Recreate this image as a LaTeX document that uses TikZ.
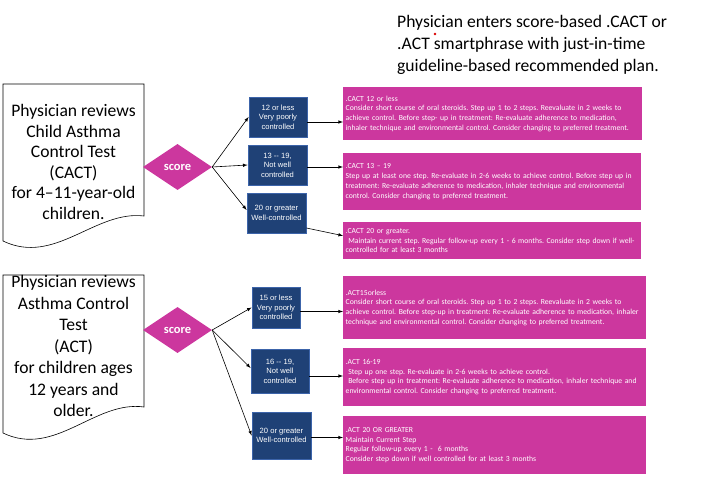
\documentclass[tikz,border=0pt]{standalone}
\usepackage{fontspec}
\setmainfont{Carlito}
\newfontfamily\arialfont{Liberation Sans}
\usetikzlibrary{shapes.geometric}

\begin{document}
\begin{tikzpicture}[x=1pt,y=-1pt,
    planbox/.style={fill=planpink,text=white,anchor=north west,align=left,inner sep=2.5pt,
      font=\fontsize{7.7}{9.7}\selectfont\frenchspacing},
    rangebox/.style={fill=rangeblue,draw=rangeedge,line width=0.8pt,text=white,align=center,
      inner sep=1pt,font=\arialfont\fontsize{7.6}{9.4}\selectfont},
    scorediamond/.style={diamond,fill=planpink,text=white,inner sep=0pt,minimum width=69pt,
      minimum height=46pt,font=\bfseries\fontsize{12.5}{14}\selectfont},
    docedge/.style={draw=black,line width=0.6pt},
    linkarrow/.style={->,>=latex,line width=0.6pt}]
  \definecolor{planpink}{RGB}{204,55,158}
  \definecolor{rangeblue}{RGB}{31,65,118}
  \definecolor{rangeedge}{RGB}{60,100,170}

  \useasboundingbox (0,0) rectangle (717,486);

  % heading
  \node[anchor=north west,align=left,inner sep=0pt,font=\fontsize{17.6}{22}\selectfont]
    (head) at (397,15) {Physician enters score-based .CACT or\\.ACT smartphrase with just-in-time\\guideline-based recommended plan.};
  \fill[red!85!black] (435,34) circle (1.3);

  % CACT document
  \draw[docedge] (3,241) -- (3,84) -- (144,84) -- (144,216) .. controls (95,210) and (55,266) .. cycle;
  \node[align=center,font=\fontsize{17.6}{20.5}\selectfont] (cactdoc) at (73.5,162)
    {Physician reviews\\Child Asthma\\Control Test\\(CACT)\\for 4--11-year-old\\children.};
  \node[scorediamond] (score1) at (177.5,167) {score};

  \node[rangebox,minimum width=58pt,minimum height=40pt] (cact1) at (278,117) {12 or less\\Very poorly\\controlled};
  \node[rangebox,minimum width=59pt,minimum height=40pt] (cact2) at (277.5,165) {13 -- 19,\\Not well\\controlled};
  \node[rangebox,minimum width=59pt,minimum height=40pt] (cact3) at (276.5,213) {20 or greater\\Well-controlled};

  \node[planbox,text width=294pt,minimum height=53pt] (plan1) at (343,87) {.CACT 12 or less\\Consider short course of oral steroids. Step up 1 to 2 steps. Reevaluate in 2 weeks to\\achieve control. Before step- up in treatment: Re-evaluate adherence to medication,\\inhaler technique and environmental control. Consider changing to preferred treatment.};
  \node[planbox,text width=293pt,minimum height=57pt] (plan2) at (343,153) {.CACT 13 -- 19\\Step up at least one step. Re-evaluate in 2-6 weeks to achieve control. Before step up in\\treatment: Re-evaluate adherence to medication, inhaler technique and environmental\\control. Consider changing to preferred treatment.};
  \node[planbox,text width=293pt,minimum height=37pt] (plan3) at (343,222) {.CACT 20 or greater.\\\ Maintain current step. Regular follow-up every 1 - 6 months. Consider step down if well-\\controlled for at least 3 months};

  \draw[linkarrow] (score1.east) -- (cact1.west);
  \draw[linkarrow] (score1.east) -- (cact2.west);
  \draw[linkarrow] (score1.east) -- ([yshift=3pt]cact3.west);
  \draw[linkarrow] ([yshift=-5pt]cact1.east) -- ([yshift=-5pt]cact1.east -| plan1.west);
  \draw[linkarrow] ([yshift=-2pt]cact2.east) -- ([yshift=-2pt]cact2.east -| plan2.west);
  \draw[linkarrow] ([yshift=-15pt]cact3.east) -- ([yshift=5pt]plan3.west);

  % ACT document
  \draw[docedge] (3,433) -- (3,275) -- (144,275) -- (144,407) .. controls (95,400) and (55,458) .. cycle;
  \node[align=center,font=\fontsize{17.6}{21.5}\selectfont] (actdoc) at (73.5,346)
    {Physician reviews\\Asthma Control\\Test\\(ACT)\\for children ages\\12 years and\\older.};
  \node[scorediamond] (score2) at (177.5,330) {score};

  \node[rangebox,minimum width=48pt,minimum height=41pt] (act1) at (276,307.5) {15 or less\\Very poorly\\controlled};
  \node[rangebox,minimum width=58pt,minimum height=44pt] (act2) at (280,371) {16 -- 19,\\Not well\\controlled};
  \node[rangebox,minimum width=59pt,minimum height=47pt] (act3) at (281.5,435.5) {20 or greater\\Well-controlled};

  \node[planbox,text width=298pt,minimum height=63pt] (plan4) at (343,276) {.ACT15orless\\Consider short course of oral steroids. Step up 1 to 2 steps. Reevaluate in 2 weeks to\\achieve control. Before step-up in treatment: Re-evaluate adherence to medication, inhaler\\technique and environmental control. Consider changing to preferred treatment.};
  \node[planbox,text width=298pt,minimum height=58pt] (plan5) at (343,348) {.ACT 16-19\\\ Step up one step. Re-evaluate in 2-6 weeks to achieve control.\\\ Before step up in treatment: Re-evaluate adherence to medication, inhaler technique and\\environmental control. Consider changing to preferred treatment.};
  \node[planbox,text width=298pt,minimum height=58pt] (plan6) at (343,416) {.ACT 20 OR GREATER\\Maintain Current Step\\Regular follow-up every 1 -\ \ 6 months\\Consider step down if well controlled for at least 3 months};

  \draw[linkarrow] (score2.east) -- (act1.west);
  \draw[linkarrow] (score2.east) -- ([yshift=3pt]act2.west);
  \draw[linkarrow] (score2.east) -- (act3.west);
  \draw[linkarrow] ([yshift=-4pt]act1.east) -- ([yshift=-4pt]act1.east -| plan4.west);
  \draw[linkarrow] ([yshift=-5pt]act2.east) -- ([yshift=-5pt]act2.east -| plan5.west);
  \draw[linkarrow] ([yshift=-2pt]act3.east) -- ([yshift=-2pt]act3.east -| plan6.west);
\end{tikzpicture}
\end{document}
